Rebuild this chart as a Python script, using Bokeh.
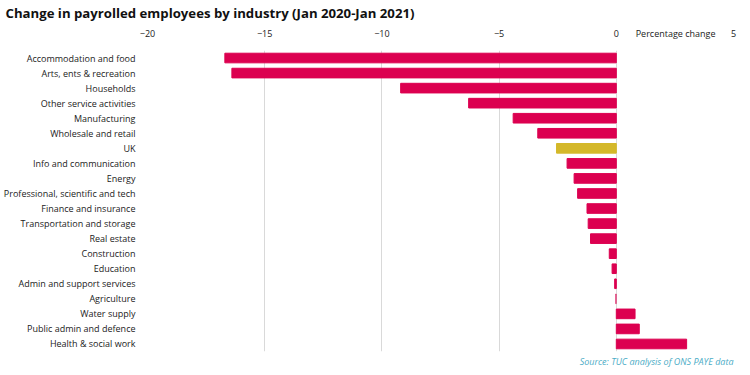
from bokeh.plotting import figure
from bokeh.models import LinearAxis, Title, FixedTicker, ColumnDataSource
from bokeh.embed import file_html
from bokeh.resources import INLINE

industries = [
    "Accommodation and food", "Arts, ents & recreation", "Households",
    "Other service activities", "Manufacturing", "Wholesale and retail", "UK",
    "Info and communication", "Energy", "Professional, scientific and tech",
    "Finance and insurance", "Transportation and storage", "Real estate",
    "Construction", "Education", "Admin and support services", "Agriculture",
    "Water supply", "Public admin and defence", "Health & social work",
]
changes = [-16.7, -16.4, -9.2, -6.3, -4.4, -3.35, -2.55, -2.1, -1.8, -1.65,
           -1.25, -1.2, -1.1, -0.3, -0.18, -0.07, -0.03, 0.8, 0.98, 3.0]
ticks = [-20, -15, -10, -5, 0, 5]
axis_title = "Percentage  change"
axis_title_pos = 2.58

BAR = "#DC0050"
UK = "#D4B82A"
colors = [UK if c == "UK" else BAR for c in industries]
alphas = [0.5 if c == "Agriculture" else 1.0 for c in industries]

src = ColumnDataSource(dict(y=industries, x=changes, color=colors, alpha=alphas))

FH = 301
p = figure(frame_width=586, frame_height=FH, output_backend="svg", toolbar_location=None,
           y_range=list(reversed(industries)), x_range=(-20, 5),
           x_axis_location=None)
p.min_border_left = 140
p.min_border_right = 6
p.min_border_top = 0
p.min_border_bottom = 0
p.outline_line_color = None
p.background_fill_color = "white"
p.border_fill_color = "white"

p.hbar(y="y", right="x", left=0, height=0.64, color="color", alpha="alpha", source=src)

xa = LinearAxis(ticker=FixedTicker(ticks=ticks + [axis_title_pos]))
xa.major_label_overrides = {axis_title_pos: axis_title}
xa.axis_line_color = None
xa.major_tick_line_color = None
xa.minor_tick_line_color = None
xa.major_label_text_font = "Open Sans"
xa.major_label_text_font_size = "9px"
xa.major_label_text_color = "#222222"
xa.major_label_standoff = 5
p.add_layout(xa, "above")

p.xgrid.ticker = FixedTicker(ticks=ticks)
p.xgrid.grid_line_color = "#d9d9d9"
p.ygrid.grid_line_color = None

ya = p.yaxis[0]
ya.axis_line_color = None
ya.major_tick_line_color = None
ya.major_label_text_font = "Open Sans"
ya.major_label_text_font_size = "9px"
ya.major_label_text_color = "#222222"
ya.major_label_standoff = 6

p.title = Title(text="Change in payrolled employees by industry (Jan 2020-Jan 2021)",
                text_font="Open Sans", text_font_size="13.2px", text_font_style="bold",
                text_color="#111111", offset=-142, standoff=3)

p.add_layout(Title(text="Source: TUC analysis of ONS PAYE data", align="right",
                   text_font="Open Sans", text_font_size="9px", standoff=2,
                   text_font_style="italic", text_color="#4BACC6"), "below")

open("out.html", "w").write(file_html(p, INLINE))
